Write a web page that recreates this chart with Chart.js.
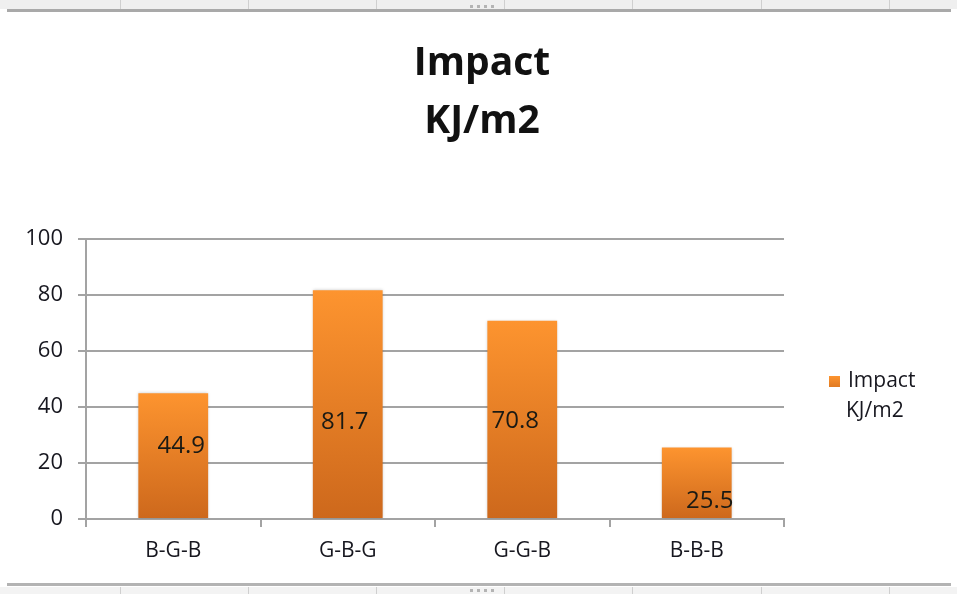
<!DOCTYPE html>
<html>
<head>
<meta charset="utf-8">
<title>Impact KJ/m2</title>
<script src="https://cdn.jsdelivr.net/npm/chart.js@4"></script>
<style>
  html, body { margin: 0; padding: 0; background: #ffffff; }
  #page { position: relative; width: 957px; height: 594px; overflow: hidden; background: #ffffff; }
  .strip { position: absolute; left: 0; width: 957px; background: #efefef; }
  .strip.top { top: 0; height: 9px; }
  .strip.bottom { top: 587px; height: 7px; background: #f3f3f3; }
  .col { position: absolute; top: 0; width: 1px; height: 100%; background: #cfcfcf; }
  .dots { position: absolute; left: 470px; width: 28px; height: 3px;
          background: repeating-linear-gradient(90deg, #b4b4b4 0 3px, transparent 3px 7px); }
  .rule { position: absolute; left: 7px; width: 944px; background: #a9a9a9; }
  .rule.top { top: 9px; height: 3px; }
  .rule.bottom { top: 583px; height: 3px; background: #b3b3b3; }
  canvas { position: absolute; left: 0; top: 0; }
</style>
</head>
<body>
<div id="page">
  <div class="strip top" id="stripTop"></div>
  <div class="strip bottom" id="stripBottom"></div>
  <div class="rule top"></div>
  <div class="rule bottom"></div>
  <canvas id="chart" width="957" height="594"></canvas>
</div>
<script>
// Chart content
const titleLines = ['Impact', 'KJ/m2'];
const categories = ['B-G-B', 'G-B-G', 'G-G-B', 'B-B-B'];
const impactValues = [44.9, 81.7, 70.8, 25.5];
const seriesName = 'Impact KJ/m2';
const yTicks = [0, 20, 40, 60, 80, 100];

// Sheet column separators above and below the chart frame
const columnEdges = [120, 248, 376, 504, 632, 761, 889];
for (const id of ['stripTop', 'stripBottom']) {
  const strip = document.getElementById(id);
  for (const x of columnEdges) {
    const c = document.createElement('div');
    c.className = 'col';
    c.style.left = x + 'px';
    strip.appendChild(c);
  }
  const d = document.createElement('div');
  d.className = 'dots';
  d.style.top = id === 'stripTop' ? '5px' : '2px';
  strip.appendChild(d);
}

const FONT = "'Open Sans', 'Liberation Sans', sans-serif";
const GRID = '#a3a3a3';
const TEXT = '#17171f';

function barGradient(ctx) {
  const chart = ctx.chart;
  if (!chart.chartArea || ctx.type !== 'data') return '#f08a2a';
  const y = chart.scales.y;
  const top = y.getPixelForValue(ctx.raw);
  const base = y.getPixelForValue(0);
  const g = chart.ctx.createLinearGradient(0, top, 0, base);
  g.addColorStop(0, '#fd942f');
  g.addColorStop(1, '#cd681c');
  return g;
}

// Two-line bold heading centred over the canvas
const headingPlugin = {
  id: 'heading',
  afterDraw(chart, args, opts) {
    const c = chart.ctx;
    c.save();
    c.fillStyle = '#111111';
    c.font = `bold ${opts.size}px ${FONT}`;
    c.textAlign = 'center';
    c.textBaseline = 'alphabetic';
    opts.lines.forEach((line, i) => {
      c.fillText(line, opts.x, opts.baseline + i * opts.lineGap);
    });
    c.restore();
  }
};

// Soft halo around the bars
const barShadowPlugin = {
  id: 'barShadow',
  beforeDatasetDraw(chart) {
    const c = chart.ctx;
    c.save();
    c.shadowColor = 'rgba(0,0,0,0.22)';
    c.shadowBlur = 3;
  },
  afterDatasetDraw(chart) {
    chart.ctx.restore();
  }
};

// Value labels written inside each bar
const valueLabelPlugin = {
  id: 'valueLabels',
  afterDatasetsDraw(chart, args, opts) {
    const c = chart.ctx;
    const meta = chart.getDatasetMeta(0);
    const data = chart.data.datasets[0].data;
    c.save();
    c.fillStyle = '#1a1a14';
    c.font = `${opts.size}px ${FONT}`;
    c.textAlign = 'center';
    c.textBaseline = 'middle';
    meta.data.forEach((bar, i) => {
      const off = opts.offsets[i] || [0, 0];
      const x = bar.x + off[0];
      const y = (bar.y + bar.base) / 2 + off[1];
      c.fillText(String(data[i]), x, y);
    });
    c.restore();
  }
};

// Legend on the right with the series name wrapped onto two lines
const sideLegendPlugin = {
  id: 'sideLegend',
  afterDraw(chart, args, opts) {
    const c = chart.ctx;
    const ds = chart.data.datasets[0];
    const words = ds.label.split(' ');
    const x = chart.chartArea.right + opts.gap;
    const y = opts.top;
    c.save();
    const g = c.createLinearGradient(0, y, 0, y + opts.box);
    g.addColorStop(0, '#fd942f');
    g.addColorStop(1, '#e07a22');
    c.fillStyle = g;
    c.fillRect(x, y, opts.box, opts.box);
    c.fillStyle = TEXT;
    c.font = `${opts.size}px ${FONT}`;
    c.textBaseline = 'middle';
    c.textAlign = 'left';
    c.fillText(words[0], x + opts.box + 8, y + opts.box / 2);
    c.fillText(words.slice(1).join(' '), x + opts.box + 6, y + opts.box / 2 + opts.lineGap);
    c.restore();
  }
};

new Chart(document.getElementById('chart'), {
  type: 'bar',
  data: {
    labels: categories,
    datasets: [{
      label: seriesName,
      data: impactValues,
      backgroundColor: barGradient,
      borderWidth: 0,
      categoryPercentage: 0.4,
      barPercentage: 1.0
    }]
  },
  options: {
    responsive: false,
    animation: false,
    events: [],
    layout: { padding: { top: 239, left: 0, right: 173, bottom: 0 } },
    plugins: {
      legend: { display: false },
      title: { display: false },
      tooltip: { enabled: false },
      heading: { lines: titleLines, x: 482, baseline: 75, lineGap: 58, size: 39 },
      valueLabels: { size: 24, offsets: [[8, -9], [-3, 18], [-7, 2], [13, 18]] },
      sideLegend: { gap: 45, top: 376, box: 11, size: 21, lineGap: 30 }
    },
    scales: {
      x: {
        afterFit(scale) { scale.height = 75; },
        offset: true,
        grid: {
          offset: true,
          drawOnChartArea: false,
          color: GRID,
          lineWidth: 2,
          tickLength: 8
        },
        border: { display: true, color: GRID, width: 2 },
        ticks: { color: TEXT, font: { family: FONT, size: 21 }, padding: 11 }
      },
      y: {
        min: 0,
        max: 100,
        afterFit(scale) { scale.width = 86; },
        afterBuildTicks(scale) { scale.ticks = yTicks.map(v => ({ value: v })); },
        grid: { color: GRID, lineWidth: 2, tickLength: 8 },
        border: { display: true, color: GRID, width: 2 },
        ticks: { color: TEXT, font: { family: FONT, size: 22 }, padding: 15 }
      }
    }
  },
  plugins: [headingPlugin, barShadowPlugin, valueLabelPlugin, sideLegendPlugin]
});
</script>
</body>
</html>
